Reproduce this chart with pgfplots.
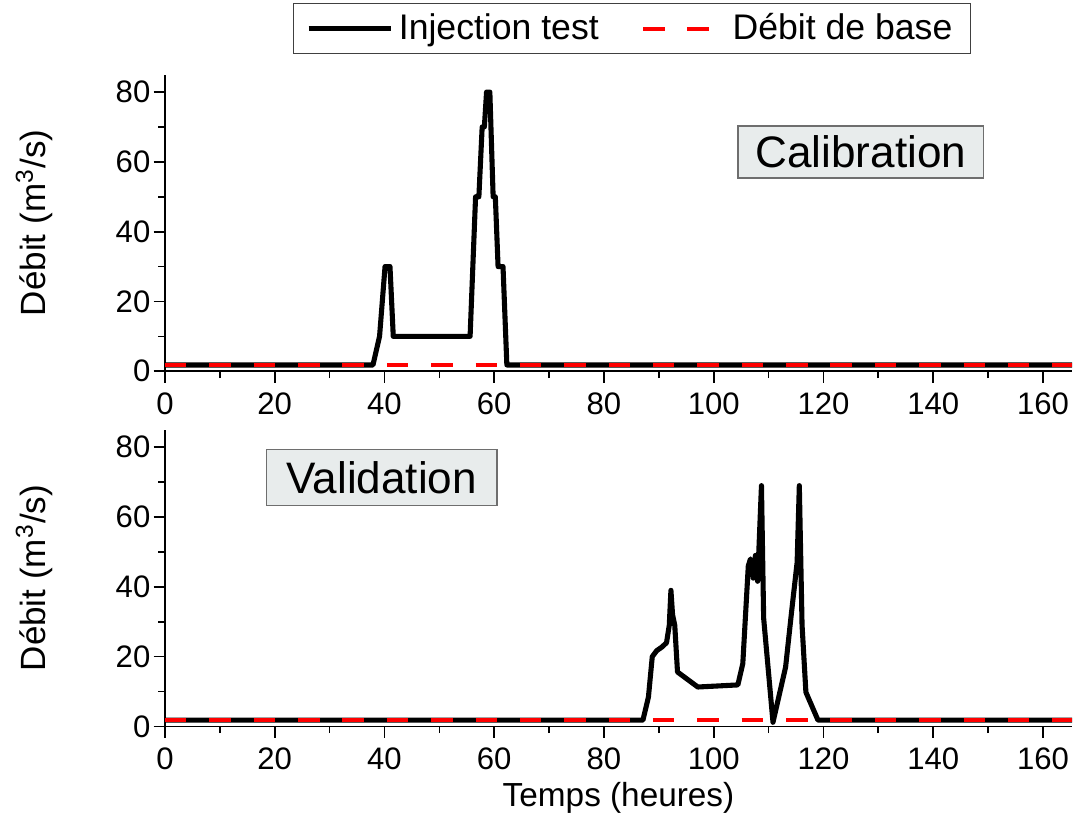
\documentclass[border=0pt]{standalone}
\usepackage{pgfplots}
\pgfplotsset{compat=1.18}
\usepackage{graphicx}
\usepackage{fontspec}
\setmainfont{Liberation Sans}
\definecolor{boxgray}{RGB}{232,236,236}
\definecolor{boxline}{RGB}{110,110,110}
\begin{document}
\begin{tikzpicture}
\pgfplotsset{
  every axis/.append style={
    scale only axis, width=321pt, height=105pt,
    xmin=0, xmax=165.3, ymin=0, ymax=85,
    axis x line=bottom, axis y line=left,
    axis line style={-, line width=0.6pt},
    tick align=outside,
    xtick={0,20,...,160}, ytick={0,20,...,80},
    minor xtick={10,30,...,150}, minor ytick={10,30,...,70},
    major tick length=4pt, minor tick length=2.4pt,
    tick style={line width=0.6pt, black},
    /pgf/number format/assume math mode=true,
    ticklabel style={font=\fontsize{11}{12}\selectfont},
    yticklabel style={inner xsep=1pt},
    ylabel={Débit (m\textsuperscript{3}/s)},
    ylabel style={font=\fontsize{12.4}{14}\selectfont, at={(axis description cs:-0.132,0.5)}, anchor=base},
    xlabel style={font=\fontsize{11.8}{14}\selectfont, at={(axis description cs:0.5,-0.27)}, anchor=base},
    clip=false,
  },
}
% top axis
\begin{axis}[at={(0,125.7pt)}, anchor=south west,
  legend style={at={(0.515,1.155)}, anchor=center, legend columns=2,
    font=\fontsize{12.6}{15}\selectfont, draw=black!75, line width=0.5pt,
    inner xsep=4.5pt, inner ysep=1.5pt,
    /tikz/every even column/.append style={column sep=13pt}},
  legend image code/.code={\draw[#1] (0pt,0pt) -- (29pt,0pt);},
]
\addplot[black, line width=1.8pt, line join=round] coordinates {
(0,1.8)(37.9,1.8)(39.1,10)(40.1,30)(41,30)(41.6,10)(55.6,10)(56.6,50)(57.2,50)(57.8,70)(58.2,70)(58.6,80)(59.2,80)(59.8,50)(60.2,50)(60.7,30)(61.6,30)(62.3,1.8)(165.3,1.8)};
\addlegendentry{Injection test}
\addplot[red, line width=1.4pt, dash pattern=on 7.6pt off 8.1pt] coordinates {(0,1.8)(165.3,1.8)};
\addlegendentry{Débit de base}
\node[draw=boxline, fill=boxgray, line width=0.5pt, minimum width=87pt, minimum height=18.4pt, inner sep=0pt, font=\fontsize{15.6}{17}\selectfont] at (axis cs:126.8,62.8) {Calibration};
\end{axis}
% bottom axis
\begin{axis}[at={(0,0)}, anchor=south west, xlabel={Temps (heures)}]
\addplot[black, line width=1.8pt, line join=round] coordinates {
(0,1.8)(87.1,1.8)(88.1,8.4)(88.8,20)(89.6,21.7)(90.6,22.8)(91.4,24)(91.9,29)(92.2,39)(92.5,32)(92.9,29)(93.4,15.6)(97.1,11.3)(104.4,11.9)(105.3,18)(106.3,46)(106.7,48)(107.2,42.5)(107.6,49)(108,41.6)(108.7,69)(109.1,31)(110.8,1.2)(113.1,17)(114.2,33)(115.2,47)(115.6,69)(116.1,29)(116.8,9.8)(119,1.8)(165.3,1.8)};
\addplot[red, line width=1.4pt, dash pattern=on 7.6pt off 8.1pt] coordinates {(0,1.8)(165.3,1.8)};
\node[draw=boxline, fill=boxgray, line width=0.5pt, minimum width=81.7pt, minimum height=19.8pt, inner sep=0pt, font=\fontsize{15.6}{17}\selectfont] at (axis cs:39.5,71.3) {Validation};
\end{axis}
\pgfresetboundingbox
\path (-58.4pt,-31.5pt) rectangle (321.7pt,257.1pt);
\end{tikzpicture}
\end{document}
